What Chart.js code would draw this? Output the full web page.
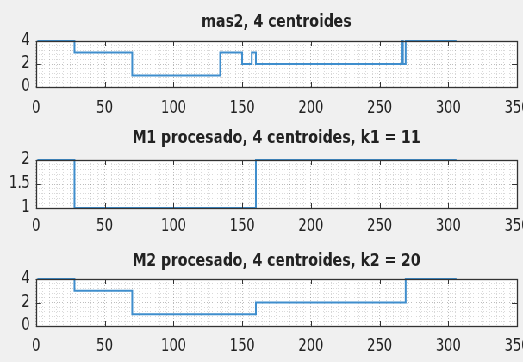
<!DOCTYPE html>
<html>
<head>
<meta charset="utf-8">
<script src="https://cdn.jsdelivr.net/npm/chart.js@4.4.1/dist/chart.umd.min.js"></script>
<style>
  html, body { margin: 0; padding: 0; background: #f0f0f0; overflow: hidden; }
  /* drawn wider, then squeezed so the labels look condensed */
  #wrap { position: relative; width: 607px; height: 362px; transform: scaleX(0.8616); transform-origin: 0 0; }
  canvas { position: absolute; left: 0; }
</style>
</head>
<body>
<div id="wrap">
  <canvas id="c1" width="607" height="120" style="top:0px"></canvas>
  <canvas id="c2" width="607" height="120" style="top:120px"></canvas>
  <canvas id="c3" width="607" height="122" style="top:240px"></canvas>
</div>
<script>
// cluster labels per sample (change points only, held until the next one)
const mas2X = [1, 28, 70, 134, 150, 157, 160, 266, 267, 269, 306];
const mas2Y = [4, 3, 1, 3, 2, 3, 2, 4, 2, 4, 4];
const m1X = [1, 28, 160, 306];
const m1Y = [2, 1, 2, 2];
const m2X = [1, 28, 70, 160, 269, 306];
const m2Y = [4, 3, 1, 2, 4, 4];

const titles = [
  'mas2, 4 centroides',
  'M1 procesado, 4 centroides, k1 = 11',
  'M2 procesado, 4 centroides, k2 = 20'
];
const xTicks = [0, 50, 100, 150, 200, 250, 300, 350];
const yTicksA = [0, 2, 4];
const yTicksB = [1, 1.5, 2];

const SX = 607 / 523;   // horizontal stretch undone by the css transform
const FONT = "'DejaVu Sans Condensed', 'Liberation Sans', sans-serif";
const LINE = '#3f8ecd';
const INK = '#222222';

const near = (v, list) => list.some(t => Math.abs(t - v) < 1e-6);

// white axes box, inward ticks, frame and title, MATLAB style
const axesBox = {
  id: 'axesBox',
  beforeDraw(chart) {
    const a = chart.chartArea, ctx = chart.ctx;
    ctx.save();
    ctx.fillStyle = '#ffffff';
    ctx.fillRect(a.left, a.top, a.right - a.left, a.bottom - a.top);
    ctx.restore();
  },
  afterDraw(chart, args, opts) {
    const a = chart.chartArea, ctx = chart.ctx;
    const xs = chart.scales.x, ys = chart.scales.y;
    ctx.save();
    ctx.strokeStyle = '#333333';
    ctx.lineWidth = 1;
    ctx.beginPath();
    opts.xMajor.forEach(v => {
      const px = Math.round(xs.getPixelForValue(v)) + 0.5;
      ctx.moveTo(px, a.bottom); ctx.lineTo(px, a.bottom - 5);
      ctx.moveTo(px, a.top); ctx.lineTo(px, a.top + 5);
    });
    opts.yMajor.forEach(v => {
      const py = Math.round(ys.getPixelForValue(v)) + 0.5;
      ctx.moveTo(a.left, py); ctx.lineTo(a.left + 6, py);
      ctx.moveTo(a.right, py); ctx.lineTo(a.right - 6, py);
    });
    ctx.stroke();
    ctx.lineWidth = 1.3;
    ctx.strokeRect(Math.round(a.left) + 0.5, Math.round(a.top) + 0.5,
      Math.round(a.right - a.left), Math.round(a.bottom - a.top));
    ctx.fillStyle = INK;
    ctx.font = 'bold 18px ' + FONT;
    ctx.textAlign = 'center';
    ctx.textBaseline = 'middle';
    ctx.fillText(opts.title, (a.left + a.right) / 2, opts.titleY);
    ctx.restore();
  }
};

function panel(id, title, xsData, ysData, yMin, yMax, yMajor, yMinor, layout) {
  const pts = xsData.map((x, i) => ({ x: x, y: ysData[i] }));
  const canvas = document.getElementById(id);
  const h = canvas.height;
  return new Chart(canvas, {
    type: 'line',
    data: {
      datasets: [{
        data: pts,
        borderColor: LINE,
        borderWidth: 2,
        pointRadius: 0,
        stepped: 'before',
        clip: false
      }]
    },
    plugins: [axesBox],
    options: {
      responsive: false,
      animation: false,
      events: [],
      layout: { autoPadding: false, padding: { top: layout.top, right: 6 * SX, left: 0, bottom: 0 } },
      plugins: {
        legend: { display: false },
        tooltip: { enabled: false },
        axesBox: { title: title, titleY: layout.titleY, xMajor: xTicks, yMajor: yMajor }
      },
      scales: {
        x: {
          type: 'linear',
          min: 0, max: 350,
          afterFit: s => { s.height = h - layout.bottom; s.paddingLeft = 0; s.paddingRight = 0; },
          border: { display: false, dash: [1, 2] },
          grid: {
            drawTicks: false,
            color: c => near(c.tick.value, xTicks) ? 'rgba(0,0,0,0.26)' : 'rgba(0,0,0,0.15)'
          },
          ticks: {
            stepSize: 5,
            autoSkip: false,
            maxRotation: 0,
            maxTicksLimit: 1000,
            padding: layout.labelPad,
            color: INK,
            font: { family: FONT, size: 17 },
            callback: v => near(v, xTicks) ? String(Math.round(v)) : ''
          }
        },
        y: {
          min: yMin, max: yMax,
          afterFit: s => { s.width = 36 * SX; s.paddingTop = 0; s.paddingBottom = 0; },
          border: { display: false, dash: [1, 2] },
          grid: {
            drawTicks: false,
            color: c => near(c.tick.value, yMajor) ? 'rgba(0,0,0,0.26)' : 'rgba(0,0,0,0.15)'
          },
          ticks: {
            stepSize: yMinor,
            autoSkip: false,
            maxTicksLimit: 1000,
            padding: 7,
            color: INK,
            font: { family: FONT, size: 17 },
            callback: v => {
              const m = yMajor.find(t => Math.abs(t - v) < 1e-6);
              return m === undefined ? '' : String(m);
            }
          }
        }
      }
    }
  });
}

panel('c1', titles[0], mas2X, mas2Y, 0, 4, yTicksA, 0.4,
  { top: 41, bottom: 87, titleY: 22, labelPad: 11 });
panel('c2', titles[1], m1X, m1Y, 1, 2, yTicksB, 0.1,
  { top: 40, bottom: 88, titleY: 18, labelPad: 8 });
panel('c3', titles[2], m2X, m2Y, 0, 4, yTicksA, 0.4,
  { top: 39, bottom: 86, titleY: 21, labelPad: 10 });
</script>
</body>
</html>
